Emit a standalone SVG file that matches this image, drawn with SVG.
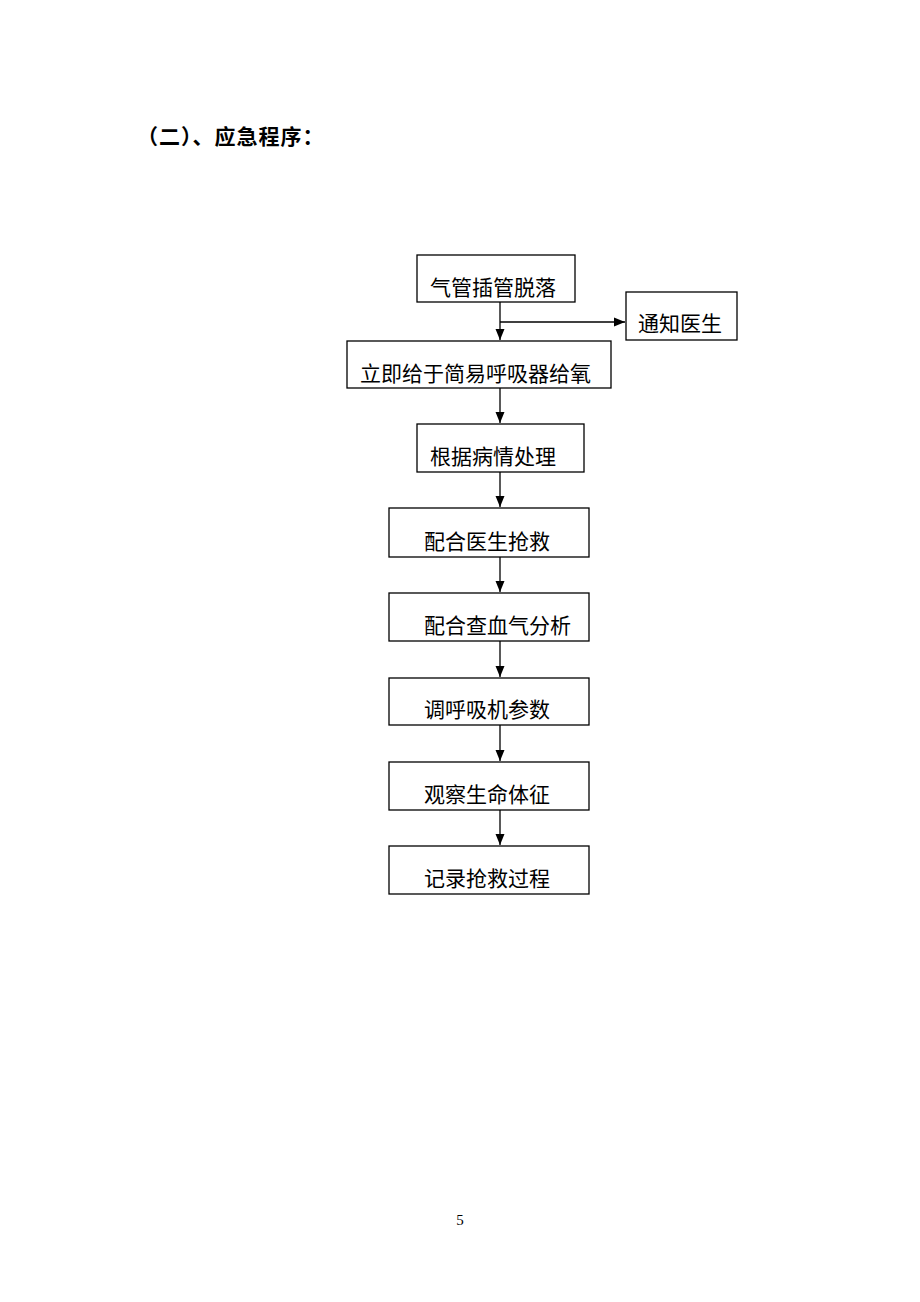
<svg xmlns="http://www.w3.org/2000/svg" width="920" height="1302" viewBox="0 0 920 1302">
<style>
.box{fill:#fff;stroke:#000;stroke-width:1.3}
.t{font-family:"Liberation Serif","Noto Sans CJK SC",serif;font-size:21px;fill:#000}
.c{stroke:#000;stroke-width:1.3;fill:none}
</style>
<defs>
<marker id="ah" markerWidth="12" markerHeight="12" refX="11" refY="5.5" orient="auto" markerUnits="userSpaceOnUse">
<path d="M0,1 L11,5.5 L0,10 Z" fill="#000"/>
</marker>
</defs>
<rect width="920" height="1302" fill="#fff"/>
<text x="137" y="144" letter-spacing="1" style="font-family:'Liberation Serif','Noto Sans CJK SC',serif;font-size:21px;font-weight:bold">（二）、应急程序：</text>
<g id="connectors">
<line class="c" x1="500" y1="302" x2="500" y2="340" marker-end="url(#ah)"/>
<line class="c" x1="500" y1="322" x2="625" y2="322" marker-end="url(#ah)"/>
<line class="c" x1="500" y1="388" x2="500" y2="423" marker-end="url(#ah)"/>
<line class="c" x1="500" y1="472" x2="500" y2="507" marker-end="url(#ah)"/>
<line class="c" x1="500" y1="557" x2="500" y2="592" marker-end="url(#ah)"/>
<line class="c" x1="500" y1="641" x2="500" y2="677" marker-end="url(#ah)"/>
<line class="c" x1="500" y1="725" x2="500" y2="761" marker-end="url(#ah)"/>
<line class="c" x1="500" y1="810" x2="500" y2="845" marker-end="url(#ah)"/>
</g>
<g id="n1"><rect class="box" x="417" y="255" width="158" height="47"/><text class="t" x="430" y="295">气管插管脱落</text></g>
<g id="n_notify"><rect class="box" x="626" y="292" width="111" height="48"/><text class="t" x="638" y="331">通知医生</text></g>
<g id="n2"><rect class="box" x="347" y="341" width="264" height="47"/><text class="t" x="360" y="381">立即给于简易呼吸器给氧</text></g>
<g id="n3"><rect class="box" x="417" y="424" width="167" height="48"/><text class="t" x="430" y="464">根据病情处理</text></g>
<g id="n4"><rect class="box" x="389" y="508" width="200" height="49"/><text class="t" x="424" y="549">配合医生抢救</text></g>
<g id="n5"><rect class="box" x="389" y="593" width="200" height="48"/><text class="t" x="424" y="633">配合查血气分析</text></g>
<g id="n6"><rect class="box" x="389" y="678" width="200" height="47"/><text class="t" x="424" y="717">调呼吸机参数</text></g>
<g id="n7"><rect class="box" x="389" y="762" width="200" height="48"/><text class="t" x="424" y="802">观察生命体征</text></g>
<g id="n8"><rect class="box" x="389" y="846" width="200" height="48"/><text class="t" x="424" y="886">记录抢救过程</text></g>
<text x="460" y="1225" text-anchor="middle" style="font-family:'Liberation Serif',serif;font-size:15px">5</text>
</svg>
